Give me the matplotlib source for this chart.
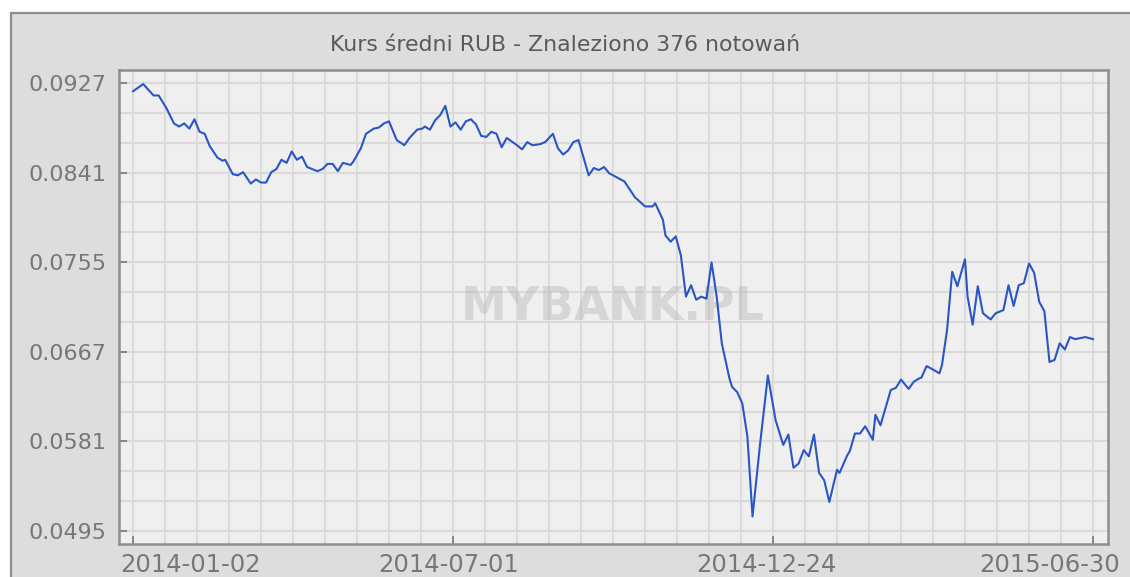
import matplotlib
matplotlib.use("Agg")
import matplotlib.pyplot as plt
from matplotlib.patches import Rectangle
from matplotlib.ticker import FixedLocator, MultipleLocator
import matplotlib.transforms as mtransforms

# ---- data ----
idx = [0, 4, 8, 10, 13, 16, 18, 20, 22, 24, 26, 28, 30, 33, 35, 36, 39, 41, 43, 46,
       48, 50, 52, 54, 56, 58, 60, 62, 64, 66, 68, 70, 72, 74, 76, 78, 80, 82, 85, 86,
       89, 91, 94, 96, 98, 100, 103, 106, 108, 111, 113, 114, 116, 118, 120,
       122, 124, 126, 128, 130, 132, 134, 136, 138, 140, 142, 144, 146, 150, 152, 154,
       156, 159, 161, 164, 166, 168, 170, 172, 174, 178, 180, 182, 184, 186, 189, 192,
       196, 200, 203, 204, 207, 208, 210, 212,
       214, 216, 218, 220, 222, 224, 226, 228, 230, 233, 234, 236, 238, 240, 242, 245,
       248, 251, 254, 256, 258, 260, 262, 264, 266, 268, 270, 272, 275, 276, 279, 280, 282,
       284, 286, 289, 290, 292, 296, 298, 300, 303, 305, 307, 308, 310, 313, 315, 316,
       318, 320, 322, 325, 326, 328, 330, 332, 335, 337, 340, 342, 344, 346, 348, 350,
       352, 354, 356, 358, 360, 362, 364, 366, 368, 372, 375]
rate = [0.0919, 0.0926, 0.0915, 0.0915, 0.0903, 0.0888, 0.0885, 0.0888, 0.0883, 0.0892,
        0.0880, 0.0878, 0.0866, 0.0855, 0.0852, 0.0853, 0.0839, 0.0838, 0.0841, 0.0830,
        0.0834, 0.0831, 0.0831, 0.0841, 0.0844, 0.0853, 0.0850, 0.0861, 0.0853, 0.0856,
        0.0846, 0.0844, 0.0842, 0.0844, 0.0849, 0.0849, 0.0842, 0.0850, 0.0848, 0.0851,
        0.0864, 0.0878, 0.0883, 0.0884, 0.0888, 0.0890, 0.0872, 0.0867, 0.0874, 0.0882,
        0.0883, 0.0885, 0.0882, 0.0891, 0.0896,
        0.0905, 0.0885, 0.0889, 0.0882, 0.0890, 0.0892, 0.0887, 0.0876, 0.0875, 0.0880,
        0.0878, 0.0865, 0.0874, 0.0867, 0.0863, 0.0870, 0.0867, 0.0868, 0.0870, 0.0878,
        0.0864, 0.0858, 0.0862, 0.0870, 0.0872, 0.0838, 0.0845, 0.0843, 0.0846, 0.0840,
        0.0836, 0.0832, 0.0817, 0.0808, 0.0808, 0.0811, 0.0795, 0.0780, 0.0774, 0.0779,
        0.0761, 0.0721, 0.0732, 0.0718, 0.0721, 0.0719, 0.0754, 0.0721, 0.0676, 0.0642,
        0.0634, 0.0629, 0.0618, 0.0586, 0.0509, 0.0580, 0.0645, 0.0602, 0.0578, 0.0588,
        0.0556, 0.0560, 0.0573, 0.0567, 0.0588, 0.0551, 0.0544, 0.0523, 0.0554, 0.0551,
        0.0568, 0.0572, 0.0589,
        0.0589, 0.0596, 0.0583, 0.0607, 0.0597, 0.0631, 0.0633, 0.0641, 0.0632, 0.0639,
        0.0642, 0.0643, 0.0654, 0.0650, 0.0647, 0.0655, 0.0689, 0.0745, 0.0731, 0.0757,
        0.0721, 0.0694, 0.0731, 0.0705, 0.0699, 0.0705, 0.0708, 0.0732, 0.0712, 0.0732,
        0.0734, 0.0753, 0.0744, 0.0716, 0.0707, 0.0658, 0.0660, 0.0676, 0.0670, 0.0682,
        0.0680, 0.0682, 0.0680]

y_ticks = [0.0495, 0.0581, 0.0667, 0.0755, 0.0841, 0.0927]
y_tick_labels = ["0.0495", "0.0581", "0.0667", "0.0755", "0.0841", "0.0927"]
x_ticks = [0, 125, 250, 375]
x_tick_labels = ["2014-01-02", "2014-07-01", "2014-12-24", "2015-06-30"]
title = "Kurs średni RUB - Znaleziono 376 notowań"
watermark = "MYBANK.PL"

# ---- figure ----
W, H = 1130, 577
fig = plt.figure(figsize=(W / 100, H / 100), dpi=100)
fig.patch.set_facecolor("white")

# outer panel
panel = Rectangle((11 / W, -0.05), 1.2, 1 - 13 / H + 0.05,
                  transform=fig.transFigure, facecolor="#dddddd",
                  edgecolor="#8e8e8e", linewidth=1.6, zorder=-5)
fig.patches.append(panel)

L, R, T, B = 119, 1108, 70, 544
ax = fig.add_axes([L / W, 1 - B / H, (R - L) / W, (B - T) / H])
ax.set_zorder(2)
ax.set_facecolor("#efefef")

ymin, ymax = y_ticks[0], y_ticks[-1]
step = (ymax - ymin) / 5
px = (ymax - ymin) / (531 - 83)
ax.set_ylim(ymin - 13 * px, ymax + 13 * px)
xpx = 375 / 960
ax.set_xlim(-14 * xpx, 375 + 15 * xpx)

# grid
ax.yaxis.set_major_locator(FixedLocator([ymin + i * step for i in range(6)]))
ax.yaxis.set_minor_locator(FixedLocator([ymin + i * step / 3 for i in range(16)]))
ax.xaxis.set_major_locator(FixedLocator(x_ticks))
ax.xaxis.set_minor_locator(MultipleLocator(12.5))
ax.grid(True, which="both", color="#dadada", linewidth=1.5, zorder=0)
ax.set_axisbelow(True)

ax.set_yticklabels(y_tick_labels)
ax.tick_params(axis="y", which="major", direction="in", length=6, width=1.2,
               color="#777777", labelsize=16, labelcolor="#777777", pad=9)
ax.tick_params(axis="x", which="major", direction="in", length=6, width=1.2,
               color="#777777", labelbottom=False)
ax.tick_params(which="minor", length=0)

for s in ax.spines.values():
    s.set_color("#8e8e8e")
    s.set_linewidth(1.8)

# x tick labels, placed like the reference (ends kept inside the canvas)
offsets = [(-13, "left"), (-4, "center"), (-7, "center"), (27, "right")]
for xt, lab, (dx, ha) in zip(x_ticks, x_tick_labels, offsets):
    tr = mtransforms.offset_copy(ax.get_xaxis_transform(), fig=fig, x=dx, y=-9, units="dots")
    ax.text(xt, 0, lab, transform=tr, ha=ha, va="top", fontsize=17.5,
            color="#777777", clip_on=False)

# watermark
ax.text(613 / W, 1 - 308 / H, watermark, transform=fig.transFigure, ha="center",
        va="center", fontsize=33, fontweight="bold", color="#b8b8b8", alpha=0.45,
        zorder=1)

# series
ax.plot(idx, rate, color="#2b55c4", linewidth=1.5, zorder=3)

# title
fig.text(565 / W, 1 - 45 / H, title, ha="center", va="center", fontsize=15.8,
         color="#5a5a5a")

fig.savefig("out.png", dpi=100)
